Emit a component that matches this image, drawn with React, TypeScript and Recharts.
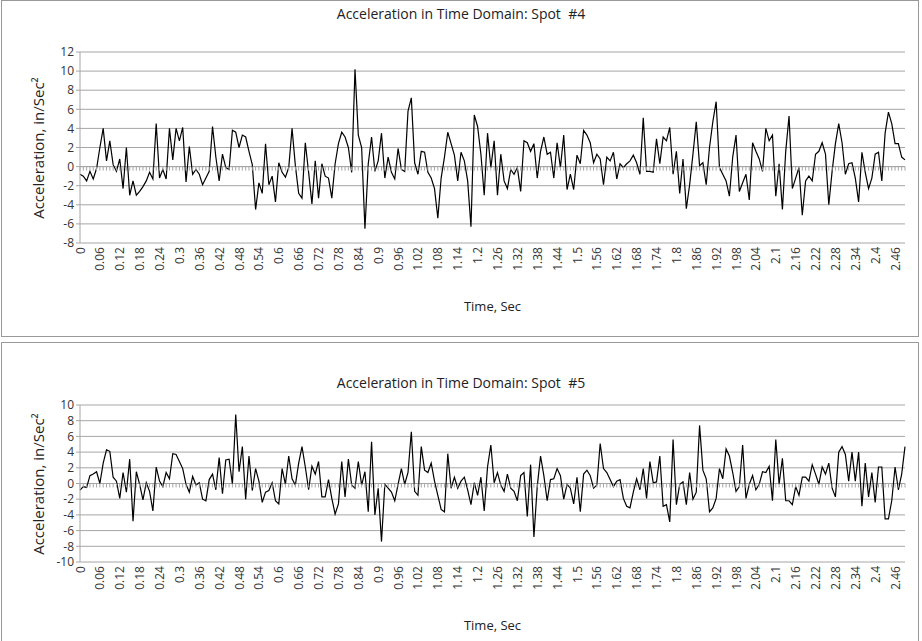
import { LineChart, Line, XAxis, YAxis, CartesianGrid, ReferenceLine } from 'recharts'

// time axis, 0.00 .. 2.49 s in 0.01 steps
const times: string[] = Array.from({ length: 250 }, (_, i) => String(Number((i / 100).toFixed(2))))

const spot4: number[] = [
  -0.8, -1.0, -1.5, -0.5, -1.3, -0.2, 2.0, 4.0, 0.6, 2.7,
  0.2, -0.5, 0.8, -2.3, 2.0, -3.0, -1.5, -3.0, -2.6, -2.1,
  -1.5, -0.6, -1.3, 4.5, -1.2, -0.3, -1.3, 4.0, 0.7, 4.0,
  2.7, 4.1, -1.6, 2.1, -0.8, -0.3, -0.8, -1.9, -1.2, -0.5,
  4.2, 1.0, -1.5, 1.3, -0.1, -0.3, 3.8, 3.6, 2.0, 3.3,
  3.1, 1.6, 0.2, -4.5, -1.7, -2.8, 2.4, -1.9, -1.0, -3.7,
  0.4, -0.6, -1.1, -0.1, 4.0, 0.1, -2.8, -3.3, 2.5, -0.6,
  -3.9, 0.6, -3.3, 0.3, -1.0, -1.2, -3.3, 0.3, 2.4, 3.6,
  3.1, 2.0, -0.6, 10.2, 3.3, 2.0, -6.5, 0.3, 3.1, -0.5,
  0.6, 3.5, -1.2, 1.0, -0.6, -1.3, 1.9, -0.3, -0.5, 5.8,
  7.2, 0.4, -0.8, 1.6, 1.5, -0.6, -1.2, -2.3, -5.4, -1.2,
  1.0, 3.6, 2.4, 1.2, -1.5, 1.5, 0.6, -1.5, -6.3, 5.4,
  4.2, 1.3, -3.0, 3.5, -0.1, 2.7, -3.0, 1.3, -1.5, -2.3,
  -0.3, -0.8, -0.1, -2.6, 2.7, 2.5, 1.6, 2.4, -1.2, 1.6,
  3.1, 1.3, 1.5, -1.2, 2.5, -0.1, 3.3, -2.4, -0.8, -2.4,
  1.2, 0.3, 3.8, 3.3, 2.5, 0.4, 1.3, 0.8, -1.9, 1.0,
  0.6, 1.5, -1.3, 0.3, -0.1, 0.3, 0.6, 1.2, 0.4, -0.8,
  5.1, -0.5, -0.5, -0.6, 2.9, 0.3, 3.1, 2.7, 4.1, -0.8,
  1.6, -2.8, 0.8, -4.4, -1.9, 1.3, 4.7, 0.1, 0.4, -1.9,
  2.0, 4.7, 6.8, -0.1, -0.8, -1.5, -3.1, 1.0, 3.3, -2.6,
  -1.7, -0.8, -3.5, 2.5, 1.6, 0.8, -0.5, 4.0, 2.7, 3.3,
  -3.1, 0.3, -4.5, 1.6, 5.3, -2.3, -1.2, -0.1, -5.1, -1.5,
  -1.0, -1.5, 1.3, 1.6, 2.5, 1.3, -4.0, -0.5, 2.4, 4.5,
  2.5, -0.8, 0.3, 0.4, -1.2, -3.7, 1.5, -0.6, -2.3, -1.2,
  1.3, 1.5, -1.5, 3.5, 5.7, 4.5, 2.4, 2.4, 1.0, 0.7,
]

const spot5: number[] = [
  -0.85, -0.4, -0.5, 1.0, 1.2, 1.5, 0.0, 2.6, 4.3, 4.1,
  0.8, 0.3, -1.9, 1.4, -1.1, 3.1, -4.8, 1.5, -0.1, -2.1,
  0.1, -1.0, -3.5, 2.1, 0.3, -0.4, 1.4, 0.6, 3.8, 3.7,
  2.8, 1.9, -0.1, -1.1, 0.9, -0.2, 0.1, -2.0, -2.2, 0.5,
  1.2, -0.8, 3.3, -1.3, 3.0, 3.1, -0.1, 8.8, 1.5, 4.7,
  -2.0, 3.5, -0.9, 1.9, 0.3, -2.4, -1.1, -0.9, 0.1, -2.2,
  -2.6, 1.9, -0.1, 3.5, 0.6, -0.2, 2.6, 4.7, 2.1, -0.8,
  2.2, 1.2, 2.8, -1.7, -1.7, 0.5, -1.9, -3.9, -2.6, 2.8,
  -1.7, 3.1, -0.2, -0.6, 2.8, -0.2, 1.5, -3.6, 5.3, -4.0,
  -0.6, -7.4, -0.1, -0.6, -1.1, -2.2, -0.1, 1.9, -0.1, 1.4,
  6.6, -1.0, -1.5, 4.7, 1.7, 1.4, 2.6, 0.3, -1.5, -3.3,
  -3.6, 3.8, -0.6, 0.8, -0.6, 0.3, 0.8, -0.8, -2.7, 0.1,
  -1.5, 0.8, -3.5, 2.1, 4.9, 0.1, 1.4, -0.2, -1.0, 1.2,
  -0.6, -1.0, -2.2, 1.0, 1.4, -4.2, 2.4, -6.8, -0.4, 3.5,
  1.0, -2.2, 0.5, 0.6, 1.9, 1.0, -2.0, -0.1, -0.6, -2.6,
  0.8, -3.6, 1.2, 1.7, 1.0, -0.6, -0.2, 5.1, 1.9, 1.4,
  0.5, -0.4, 0.3, 0.5, -1.9, -2.9, -3.1, -1.1, 0.6, -0.8,
  1.9, -1.9, 2.8, 0.1, 0.2, 3.5, -2.9, -2.7, -4.9, 5.6,
  -2.7, -0.1, 0.2, -2.7, 1.4, -2.0, -1.1, 7.4, 1.7, 0.6,
  -3.6, -3.1, -1.9, 1.9, 0.6, 4.4, 3.5, 1.4, -1.0, -0.4,
  4.9, -1.9, -0.1, 1.0, -0.8, -0.1, 1.5, 1.4, 2.2, -2.2,
  5.6, -0.1, 3.2, -2.2, -2.2, -2.7, -0.4, -1.5, 0.8, 0.8,
  0.3, 2.4, 1.2, -0.1, 2.1, 1.2, 2.6, -0.6, -1.7, 4.0,
  4.7, 3.7, 0.3, 4.0, 0.3, 4.0, -2.9, 2.6, -1.7, 1.4,
  -2.4, 2.1, 2.1, -4.5, -4.5, -2.2, 2.1, -0.8, 1.2, 4.7,
]

const ticks4 = [-8, -6, -4, -2, 0, 2, 4, 6, 8, 10, 12]
const ticks5 = [-10, -8, -6, -4, -2, 0, 2, 4, 6, 8, 10]

const FONT = '"Open Sans", "Noto Sans", sans-serif'
const GRID = '#a6a6a6'

interface PanelProps {
  title: string
  values: number[]
  ticks: number[]
  top: number
  height: number
  titleTop: number
  marginTop: number
  marginBottom: number
}

// small downward tick at each category on the zero line (Excel category axis crossing at 0)
function ZeroTick(props: { cx?: number; cy?: number; index?: number }) {
  const { cx, cy, index } = props
  if (cx == null || cy == null) return <g key={index} />
  return <line key={index} x1={cx} x2={cx} y1={cy} y2={cy + 4} stroke={GRID} strokeWidth={1} />
}

function Panel({ title, values, ticks, top, height, titleTop, marginTop, marginBottom }: PanelProps) {
  const data = times.map((t, i) => ({ t, v: values[i], zero: 0 }))
  const plotTop = marginTop
  const plotBottom = height - marginBottom - 50
  return (
    <div style={{ position: 'absolute', left: 0, top, width: 922, height }}>
      <div
        style={{
          position: 'absolute',
          left: 0,
          right: 0,
          top: titleTop,
          textAlign: 'center',
          fontSize: 14,
          color: '#222',
          fontFamily: FONT,
          whiteSpace: 'pre',
        }}
      >
        {title}
      </div>
      <div
        style={{
          position: 'absolute',
          left: 38 - 100,
          top: (plotTop + plotBottom) / 2 - 10,
          width: 200,
          textAlign: 'center',
          transform: 'rotate(-90deg)',
          fontSize: 15,
          color: '#222',
          fontFamily: FONT,
          lineHeight: '20px',
        }}
      >
        Acceleration, in/Sec²
      </div>
      <div
        style={{
          position: 'absolute',
          left: 80,
          width: 825,
          top: height - marginBottom + 4,
          textAlign: 'center',
          fontSize: 13,
          color: '#222',
          fontFamily: FONT,
        }}
      >
        Time, Sec
      </div>
      <LineChart
        width={922}
        height={height}
        data={data}
        margin={{ top: marginTop, right: 17, bottom: marginBottom, left: 0 }}
        style={{ position: 'absolute', left: 0, top: 0 }}
      >
        <CartesianGrid vertical={false} stroke={GRID} strokeDasharray="0" />
        <XAxis
          dataKey="t"
          interval={5}
          height={50}
          axisLine={false}
          tickLine={false}
          angle={-90}
          textAnchor="end"
          dy={-4}
          dx={-4}
          tick={{ fill: '#333', fontSize: 12, fontFamily: FONT }}
        />
        <YAxis
          width={80}
          domain={[ticks[0], ticks[ticks.length - 1]]}
          ticks={ticks}
          interval={0}
          axisLine={{ stroke: GRID }}
          tickLine={{ stroke: GRID }}
          tickSize={4}
          tick={{ fill: '#333', fontSize: 12, fontFamily: FONT }}
        />
        <ReferenceLine y={0} stroke={GRID} />
        <Line
          dataKey="zero"
          stroke="none"
          dot={<ZeroTick />}
          activeDot={false}
          isAnimationActive={false}
        />
        <Line
          type="linear"
          dataKey="v"
          stroke="#000"
          strokeWidth={1.2}
          dot={false}
          activeDot={false}
          isAnimationActive={false}
        />
      </LineChart>
    </div>
  )
}

export default function App() {
  return (
    <div style={{ position: 'relative', width: 922, height: 641, background: '#fff', overflow: 'hidden' }}>
      <style>{'body{margin:0;}'}</style>
      <div style={{ position: 'absolute', left: 1, top: 0, width: 918, height: 337, border: '1px solid #999', boxSizing: 'border-box' }} />
      <div style={{ position: 'absolute', left: 1, top: 342, width: 918, height: 300, border: '1px solid #999', boxSizing: 'border-box' }} />
      <Panel
        title="Acceleration in Time Domain: Spot  #4"
        values={spot4}
        ticks={ticks4}
        top={0}
        height={338}
        titleTop={4}
        marginTop={52}
        marginBottom={45}
      />
      <Panel
        title="Acceleration in Time Domain: Spot  #5"
        values={spot5}
        ticks={ticks5}
        top={343}
        height={298}
        titleTop={30}
        marginTop={62}
        marginBottom={29}
      />
    </div>
  )
}
